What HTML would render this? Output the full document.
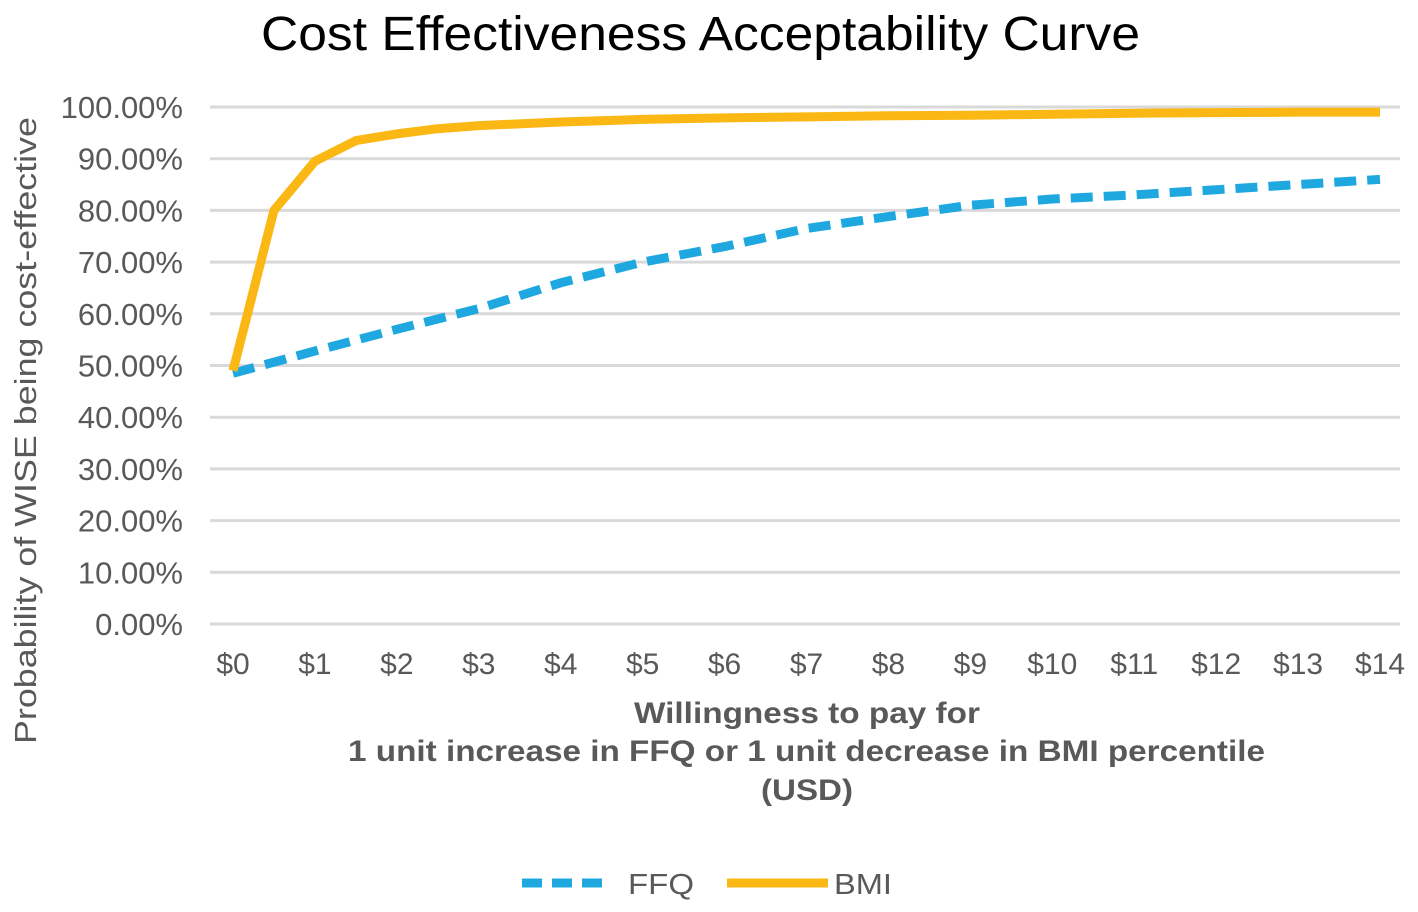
<!DOCTYPE html>
<html><head><meta charset="utf-8"><style>
html,body{margin:0;padding:0;background:#fff;}
svg text{font-family:"Liberation Sans",Arial,sans-serif;}
</style></head><body>
<svg width="1418" height="907" viewBox="0 0 1418 907" id="chart">
<text x="261" y="50" font-size="48" textLength="879" lengthAdjust="spacingAndGlyphs" fill="#000">Cost Effectiveness Acceptability Curve</text>
<g id="grid"></g>
<g id="yticks"></g>
<g id="xticks"></g>
<g id="series"></g>
<text transform="translate(36,431) rotate(-90)" x="-313" font-size="31" textLength="627" lengthAdjust="spacingAndGlyphs" fill="#595959">Probability of WISE being cost-effective</text>
<g font-size="30" font-weight="bold" fill="#595959">
<text x="634" y="723" textLength="346" lengthAdjust="spacingAndGlyphs">Willingness to pay for</text>
<text x="348" y="761" textLength="917" lengthAdjust="spacingAndGlyphs">1 unit increase in FFQ or 1 unit decrease in BMI percentile</text>
<text x="761" y="800" textLength="92" lengthAdjust="spacingAndGlyphs">(USD)</text>
</g>
<g>
<line x1="522" y1="883" x2="610" y2="883" stroke="#1fa8e0" stroke-width="9" stroke-dasharray="20,10"/>
<text x="628" y="894" font-size="29" textLength="66" lengthAdjust="spacingAndGlyphs" fill="#595959">FFQ</text>
<line x1="727" y1="883" x2="828" y2="883" stroke="#fbb713" stroke-width="9"/>
<text x="834" y="894" font-size="29" textLength="58" lengthAdjust="spacingAndGlyphs" fill="#595959">BMI</text>
</g>
</svg>
<script>
const yTicks=[0,10,20,30,40,50,60,70,80,90,100];
const xTickLabels=["$0","$1","$2","$3","$4","$5","$6","$7","$8","$9","$10","$11","$12","$13","$14"];
const bmiX=[0,0.5,1,1.5,2,2.5,3,4,5,6,7,8,9,10,11,12,13,14];
const bmiY=[49,80,89.5,93.5,94.8,95.8,96.4,97.1,97.6,97.9,98.1,98.3,98.4,98.6,98.8,98.9,99,99];
const ffqX=[0,1,2,3,4,5,6,7,8,9,10,11,12,13,14];
const ffqY=[48.5,52.8,57,61,66,70,73,76.5,78.8,81,82.2,83,84,85,86];
const X=v=>233+v*(1380-233)/14;
const Y=v=>624-v*(624-107)/100;
const NS="http://www.w3.org/2000/svg";
const grid=document.getElementById('grid'),yt=document.getElementById('yticks'),xt=document.getElementById('xticks'),se=document.getElementById('series');
yTicks.forEach(t=>{
  const l=document.createElementNS(NS,'line');
  l.setAttribute('x1',210);l.setAttribute('x2',1400);l.setAttribute('y1',Y(t));l.setAttribute('y2',Y(t));
  l.setAttribute('stroke','#d9d9d9');l.setAttribute('stroke-width','3');
  
  
  grid.appendChild(l);
  const tx=document.createElementNS(NS,'text');
  tx.setAttribute('x',183);tx.setAttribute('y',Y(t)+11);tx.setAttribute('text-anchor','end');
  tx.setAttribute('font-size','31');tx.setAttribute('fill','#595959');
  tx.textContent=t.toFixed(2)+'%';
  
  
  yt.appendChild(tx);
});
xTickLabels.forEach((s,i)=>{
  const tx=document.createElementNS(NS,'text');
  tx.setAttribute('x',X(i));tx.setAttribute('y',674);tx.setAttribute('text-anchor','middle');
  tx.setAttribute('font-size','30');tx.setAttribute('fill','#595959');
  tx.textContent=s;
  
  
  xt.appendChild(tx);
});
function line(xs,ys,color,dash,name){
  const p=document.createElementNS(NS,'polyline');
  p.setAttribute('points',xs.map((x,i)=>X(x)+','+Y(ys[i])).join(' '));
  p.setAttribute('fill','none');p.setAttribute('stroke',color);p.setAttribute('stroke-width','9');
  p.setAttribute('stroke-linejoin','round');
  if(dash)p.setAttribute('stroke-dasharray',dash);
  
  
  se.appendChild(p);
}
line(ffqX,ffqY,'#1fa8e0','22,11','ffq-line');
line(bmiX,bmiY,'#fbb713',null,'bmi-line');
</script>
</body></html>
